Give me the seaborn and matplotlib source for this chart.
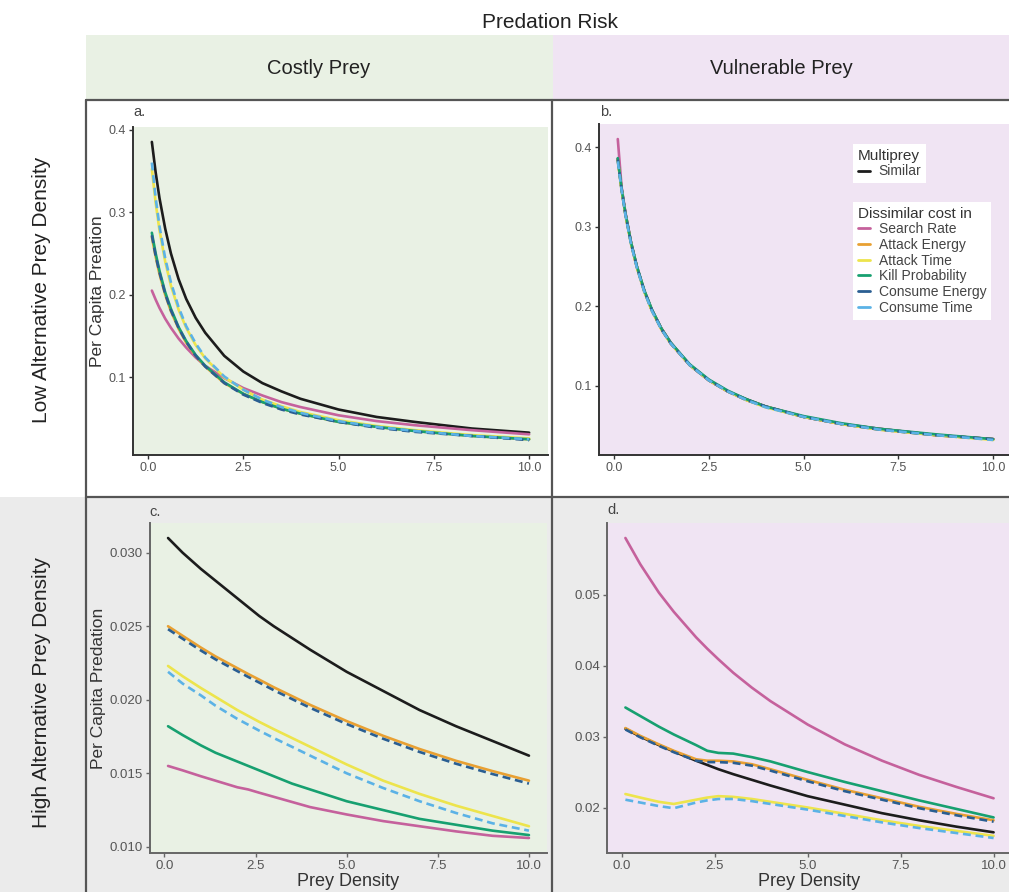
import pandas as pd
import seaborn as sns
import matplotlib.pyplot as plt
from matplotlib.lines import Line2D
from matplotlib.patches import Rectangle
from matplotlib.ticker import FormatStrFormatter

sns.set_style("ticks")
plt.rcParams["font.family"] = ["Liberation Sans", "DejaVu Sans"]

W, H = 1009, 892

# --- data ---
density_top = [0.1, 0.2, 0.3, 0.45, 0.6, 0.8, 1.0, 1.25, 1.5, 2.0, 2.5, 3.0, 3.5, 4.0, 5.0, 6.0, 7.0, 8.5, 10.0]
density_bottom = [0.1, 0.5, 1.0, 1.4, 2.0, 2.3, 2.6, 3.0, 3.5, 4.0, 5.0, 6.0, 7.0, 8.0, 9.0, 10.0]

cost_names = ["Similar", "Search Rate", "Attack Energy", "Attack Time",
              "Kill Probability", "Consume Energy", "Consume Time"]
line_colors = ["#1c1c1c", "#c5619c", "#e8a032", "#ede44c", "#17a070", "#2a5e92", "#5bb2e6"]

# a. costly prey, low alternative prey density
a_similar = [0.385, 0.348, 0.317, 0.280, 0.250, 0.219, 0.195, 0.172, 0.154, 0.126, 0.107, 0.093, 0.083, 0.074, 0.061, 0.052, 0.046, 0.038, 0.033]
a_search = [0.205, 0.194, 0.184, 0.171, 0.160, 0.147, 0.136, 0.124, 0.114, 0.099, 0.087, 0.078, 0.070, 0.064, 0.054, 0.047, 0.042, 0.036, 0.031]
a_attack_energy = [0.270, 0.246, 0.225, 0.200, 0.180, 0.159, 0.142, 0.126, 0.113, 0.093, 0.080, 0.070, 0.062, 0.056, 0.046, 0.040, 0.035, 0.029, 0.025]
a_attack_time = [0.352, 0.311, 0.278, 0.240, 0.211, 0.182, 0.160, 0.139, 0.123, 0.100, 0.085, 0.073, 0.065, 0.058, 0.048, 0.041, 0.036, 0.030, 0.026]
a_kill = [0.275, 0.250, 0.229, 0.203, 0.183, 0.161, 0.144, 0.127, 0.114, 0.094, 0.080, 0.070, 0.062, 0.056, 0.046, 0.040, 0.035, 0.029, 0.025]
a_consume_energy = [0.272, 0.247, 0.227, 0.201, 0.181, 0.160, 0.143, 0.126, 0.113, 0.093, 0.079, 0.069, 0.061, 0.055, 0.046, 0.039, 0.034, 0.029, 0.024]
a_consume_time = [0.360, 0.317, 0.283, 0.244, 0.215, 0.185, 0.162, 0.141, 0.124, 0.101, 0.085, 0.073, 0.064, 0.057, 0.047, 0.040, 0.035, 0.029, 0.025]

# b. vulnerable prey, low alternative prey density
b_similar = [0.385, 0.348, 0.317, 0.280, 0.250, 0.219, 0.195, 0.172, 0.154, 0.126, 0.107, 0.093, 0.083, 0.074, 0.061, 0.052, 0.046, 0.038, 0.033]
b_search = [0.410, 0.350, 0.318, 0.280, 0.250, 0.219, 0.195, 0.172, 0.153, 0.126, 0.107, 0.093, 0.082, 0.074, 0.061, 0.052, 0.046, 0.038, 0.033]
b_attack_energy = [0.384, 0.347, 0.316, 0.279, 0.250, 0.219, 0.195, 0.171, 0.153, 0.126, 0.107, 0.093, 0.082, 0.074, 0.061, 0.052, 0.045, 0.038, 0.033]
b_attack_time = [0.383, 0.346, 0.315, 0.278, 0.249, 0.218, 0.194, 0.171, 0.153, 0.126, 0.107, 0.093, 0.082, 0.073, 0.061, 0.052, 0.045, 0.038, 0.032]
b_kill = [0.386, 0.348, 0.317, 0.280, 0.251, 0.220, 0.196, 0.172, 0.154, 0.127, 0.108, 0.094, 0.083, 0.074, 0.062, 0.053, 0.046, 0.039, 0.033]
b_consume_energy = [0.384, 0.347, 0.316, 0.279, 0.250, 0.219, 0.195, 0.171, 0.153, 0.126, 0.107, 0.093, 0.082, 0.074, 0.061, 0.052, 0.045, 0.038, 0.033]
b_consume_time = [0.382, 0.346, 0.315, 0.278, 0.249, 0.218, 0.194, 0.171, 0.153, 0.126, 0.107, 0.093, 0.082, 0.073, 0.061, 0.052, 0.045, 0.038, 0.032]

# c. costly prey, high alternative prey density
c_similar = [0.0310, 0.0300, 0.0289, 0.0281, 0.0269, 0.0263, 0.0257, 0.0250, 0.0242, 0.0234, 0.0219, 0.0206, 0.0193, 0.0182, 0.0172, 0.0162]
c_search = [0.0155, 0.0152, 0.0148, 0.0145, 0.01405, 0.0139, 0.01368, 0.0134, 0.01305, 0.0127, 0.0122, 0.01175, 0.0114, 0.01105, 0.01075, 0.0106]
c_attack_energy = [0.0250, 0.02435, 0.02355, 0.02295, 0.02215, 0.02175, 0.02137, 0.02085, 0.02025, 0.01965, 0.01855, 0.01755, 0.01665, 0.01585, 0.01515, 0.0145]
c_attack_time = [0.0223, 0.0216, 0.0208, 0.0202, 0.0193, 0.0189, 0.0185, 0.0180, 0.0174, 0.0168, 0.0156, 0.0145, 0.0136, 0.0128, 0.0121, 0.0114]
c_kill = [0.0182, 0.0176, 0.0169, 0.0164, 0.0158, 0.0155, 0.0152, 0.0148, 0.0143, 0.0139, 0.0131, 0.0125, 0.0119, 0.0115, 0.0111, 0.0108]
c_consume_energy = [0.0248, 0.02415, 0.02335, 0.02275, 0.02195, 0.02155, 0.02117, 0.02065, 0.02005, 0.01945, 0.01835, 0.01735, 0.01645, 0.01565, 0.01495, 0.0143]
c_consume_time = [0.0219, 0.0211, 0.0203, 0.0196, 0.0187, 0.0183, 0.0179, 0.0174, 0.0168, 0.0162, 0.0150, 0.0140, 0.0131, 0.0123, 0.0116, 0.0111]

# d. vulnerable prey, high alternative prey density
d_similar = [0.0311, 0.0300, 0.0288, 0.0279, 0.0266, 0.0260, 0.0254, 0.0247, 0.0239, 0.0231, 0.0216, 0.0204, 0.0192, 0.0182, 0.0173, 0.0165]
d_search = [0.0580, 0.0543, 0.0503, 0.0476, 0.0440, 0.0424, 0.0409, 0.0390, 0.0369, 0.0350, 0.0317, 0.0289, 0.0266, 0.0246, 0.0229, 0.0213]
d_attack_energy = [0.0312, 0.0301, 0.0289, 0.0280, 0.0268, 0.0266, 0.0266, 0.0265, 0.0261, 0.0254, 0.0239, 0.0225, 0.0213, 0.0201, 0.0191, 0.0182]
d_attack_time = [0.0219, 0.0214, 0.0208, 0.0205, 0.0211, 0.0214, 0.0216, 0.0215, 0.0212, 0.0208, 0.0200, 0.0191, 0.0182, 0.0174, 0.0167, 0.0160]
d_kill = [0.0341, 0.0329, 0.0314, 0.0303, 0.0288, 0.0280, 0.0277, 0.0276, 0.0271, 0.0265, 0.0250, 0.0236, 0.0223, 0.0210, 0.0198, 0.0186]
d_consume_energy = [0.0310, 0.0299, 0.0287, 0.0278, 0.0266, 0.0264, 0.0264, 0.0263, 0.0259, 0.0252, 0.0237, 0.0223, 0.0211, 0.0199, 0.0189, 0.0180]
d_consume_time = [0.0211, 0.0207, 0.0202, 0.0199, 0.0207, 0.0210, 0.0212, 0.0212, 0.0209, 0.0205, 0.0197, 0.0188, 0.0179, 0.0171, 0.0164, 0.0157]

GREEN = "#e9f1e4"
PURPLE = "#f0e4f3"
GREY = "#ebebeb"
BORDER = "#555555"


def px_rect(x0, y0, x1, y1):
    return [x0 / W, 1 - y1 / H, (x1 - x0) / W, (y1 - y0) / H]


def panel_frame(x, series):
    parts = [pd.DataFrame({"density": x, "rate": vals, "cost": name})
             for name, vals in zip(cost_names, series)]
    return pd.concat(parts, ignore_index=True)


palette = dict(zip(cost_names, line_colors))
dashes = {name: "" for name in cost_names}
dashes["Consume Energy"] = (3, 1.8)
dashes["Consume Time"] = (3, 1.8)

fig = plt.figure(figsize=(W / 100, H / 100), dpi=100)
fig.patch.set_facecolor("white")

# background blocks: column strips, lower row
for box, col in [((86, 35, 553, 100), GREEN), ((553, 35, 1009, 100), PURPLE),
                 ((0, 497, 1009, 892), GREY)]:
    r = px_rect(*box)
    fig.add_artist(Rectangle((r[0], r[1]), r[2], r[3], transform=fig.transFigure,
                             facecolor=col, edgecolor="none", zorder=-5))

# panel frame lines
for xs, ys in [((86, 86), (100, 892)), ((552, 552), (100, 892)),
               ((86, 1009), (100, 100)), ((86, 1009), (497, 497))]:
    fig.add_artist(Line2D([x / W for x in xs], [1 - y / H for y in ys],
                          transform=fig.transFigure, color=BORDER, lw=1.6, zorder=5))

fig.text(550 / W, 1 - 22 / H, "Predation Risk", ha="center", va="center", fontsize=15, color="#222222")
fig.text(319 / W, 1 - 68 / H, "Costly Prey", ha="center", va="center", fontsize=14.5, color="#222222")
fig.text(781 / W, 1 - 68 / H, "Vulnerable Prey", ha="center", va="center", fontsize=14.5, color="#222222")
fig.text(42 / W, 1 - 290 / H, "Low Alternative Prey Density", ha="center", va="center",
         rotation=90, fontsize=15, color="#222222")
fig.text(42 / W, 1 - 692 / H, "High Alternative Prey Density", ha="center", va="center",
         rotation=90, fontsize=15, color="#222222")


def draw_panel(rect, x, series, bg, tag, tag_xy, yticks, yfmt, tick_size,
               ylabel=None, xlabel=None, spine_col="#333333"):
    ax = fig.add_axes(px_rect(*rect))
    ax.set_facecolor(bg)
    df = panel_frame(x, series)
    sns.lineplot(data=df, x="density", y="rate", hue="cost", style="cost",
                 hue_order=cost_names, style_order=cost_names, palette=palette,
                 dashes=dashes, linewidth=1.9, legend=False, sort=False,
                 estimator=None, ax=ax)
    ax.margins(x=0.05, y=0.05)
    ax.set_xticks([0, 2.5, 5, 7.5, 10])
    ax.xaxis.set_major_formatter(FormatStrFormatter("%.1f"))
    ax.set_yticks(yticks)
    ax.yaxis.set_major_formatter(FormatStrFormatter(yfmt))
    ax.tick_params(labelsize=tick_size, labelcolor="#555555", color=spine_col,
                   length=3, width=1, pad=2)
    for s in ["top", "right"]:
        ax.spines[s].set_visible(False)
    for s in ["left", "bottom"]:
        ax.spines[s].set_color(spine_col)
        ax.spines[s].set_linewidth(1.4)
    ax.set_xlabel(xlabel if xlabel else "", fontsize=13, color="#333333", labelpad=1)
    ax.set_ylabel(ylabel if ylabel else "", fontsize=12.5, color="#333333", labelpad=3)
    fig.text(tag_xy[0] / W, 1 - tag_xy[1] / H, tag, ha="center", va="center",
             fontsize=10.5, color="#444444")
    return ax


ax_a = draw_panel((133, 127, 548, 455), density_top,
                  [a_similar, a_search, a_attack_energy, a_attack_time, a_kill,
                   a_consume_energy, a_consume_time],
                  GREEN, "a.", (139, 112), [0.1, 0.2, 0.3, 0.4], "%.1f", 9,
                  ylabel="Per Capita Preation")
ax_b = draw_panel((599, 124, 1012, 455), density_top,
                  [b_similar, b_search, b_attack_energy, b_attack_time, b_kill,
                   b_consume_energy, b_consume_time],
                  PURPLE, "b.", (606, 112), [0.1, 0.2, 0.3, 0.4], "%.1f", 9)
ax_c = draw_panel((150, 523, 547, 853), density_bottom,
                  [c_similar, c_search, c_attack_energy, c_attack_time, c_kill,
                   c_consume_energy, c_consume_time],
                  GREEN, "c.", (155, 512), [0.010, 0.015, 0.020, 0.025, 0.030], "%.3f", 9.5,
                  ylabel="Per Capita Predation", xlabel="Prey Density", spine_col="#666666")
ax_d = draw_panel((607, 523, 1012, 853), density_bottom,
                  [d_similar, d_search, d_attack_energy, d_attack_time, d_kill,
                   d_consume_energy, d_consume_time],
                  PURPLE, "d.", (613, 510), [0.02, 0.03, 0.04, 0.05], "%.2f", 9.5,
                  xlabel="Prey Density", spine_col="#666666")

# legends in panel b
leg_kw = dict(loc="upper left", frameon=True, fancybox=False, framealpha=1,
              facecolor="white", edgecolor="none", fontsize=10, title_fontsize=11,
              handlelength=0.9, handletextpad=0.6, labelspacing=0.12, borderpad=0.35,
              borderaxespad=0, labelcolor="#444444")
h_sim = [Line2D([], [], color=line_colors[0], lw=2)]
leg1 = ax_b.legend(h_sim, ["Similar"], title="Multiprey", bbox_to_anchor=(0.615, 0.94), **leg_kw)
leg1._legend_box.align = "left"
leg1.get_title().set_color("#333333")
ax_b.add_artist(leg1)

h_dis = [Line2D([], [], color=c, lw=2) for c in line_colors[1:]]
leg2 = ax_b.legend(h_dis, cost_names[1:], title="Dissimilar cost in",
                   bbox_to_anchor=(0.615, 0.765), **leg_kw)
leg2._legend_box.align = "left"
leg2.get_title().set_color("#333333")

fig.savefig("out.png", dpi=100, facecolor=fig.get_facecolor())
